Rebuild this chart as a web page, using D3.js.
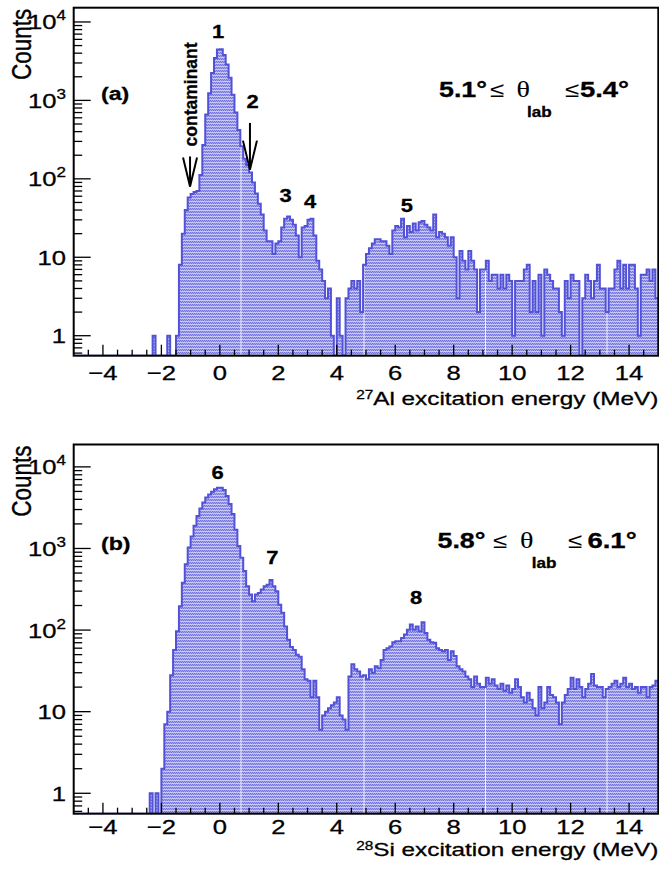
<!DOCTYPE html>
<html>
<head>
<meta charset="utf-8">
<title>27Al / 28Si excitation energy spectra</title>
<script src="https://cdn.jsdelivr.net/npm/d3@7"></script>
<style>
body { margin: 0; background: #fff; }
svg { display: block; font-family: "Liberation Sans", Arial, sans-serif; }
svg text { stroke: #000; stroke-width: 0.3px; }
</style>
</head>
<body>
<svg id="chart" width="659" height="869"></svg>
<script>
// histogram binning: 0.1 MeV bins from -5 to 15 MeV
var binLo = -5, binW = 0.1;

// (a) 27Al, 5.1-5.4 deg -- counts per bin
var countsAl = [
	0,0,0,0,0,0,0,0,0,0, 0,0,0,0,0,0,0,0,0,0, 0,0,0,0,0,0,0,1,0,0,
	0,0,1,0,0,1,8,20,40,58, 64,68,70,112,270,660,1230,2240,3470,4450,
	4500,3800,2860,1940,1180,700,420,260,180,150, 120,90,65,48,35,22,16,16,11,15,
	16,24,31,33,30,26,19,10,24,25, 30,31,19,9,7,5,3,4,1,0,
	3,1,0,3,4,5,4,5,2,8, 11,13,15,17,17,16,16,14,11,22,
	25,24,31,18,25,21,27,22,28,29, 26,24,22,35,18,21,20,18,14,18,
	10,3,12,9,7,12,9,7,2,7, 7,9,5,6,6,4,6,4,6,5,
	1,5,5,5,7,8,2,5,2,6, 1,7,6,5,4,4,2,1,5,3,
	6,5,5,0,3,6,5,3,5,8, 4,4,2,4,4,7,9,4,8,4,
	8,8,4,1,6,6,7,5,7,3
];

// (b) 28Si, 5.8-6.1 deg -- counts per bin
var countsSi = [
	0,0,0,0,0,0,0,0,0,0, 0,0,0,0,0,0,0,0,0,0, 0,0,0,0,0,0,1,0,1,0,
	2,7,10,28,57,97,196,380,640,1030, 1400,1900,2500,3100,3650,4200,4600,4950,5300,5560,
	5560,5200,4400,3500,2640,1700,1070,770,530,345, 272,225,272,285,315,345,360,410,345,300,
	205,163,111,76,62,57,50,47,33,25, 24,15,24,15,6,9,10,11,12,13,
	15,9,8,6,27,38,33,31,27,28, 25,33,30,36,34,43,57,60,63,71,
	73,73,80,88,101,117,101,111,97,125, 92,76,71,70,60,57,55,57,43,55,
	48,36,33,31,27,25,20,27,22,20, 20,26,22,25,21,19,22,18,21,17,
	19,25,20,15,13,17,14,11,9,20, 11,13,20,16,15,13,7,13,16,19,
	26,19,25,20,15,19,22,29,21,20, 20,15,19,20,22,24,20,22,26,20,
	22,19,20,17,20,20,15,20,21,24
];

var xTicks = [-4, -2, 0, 2, 4, 6, 8, 10, 12, 14];
var yDecades = [1, 10, 100, 1000, 10000];

// peak numbers (energy in MeV, height in counts)
var peaksAl = [
	{label: "1", e: -0.06, c: 6330},
	{label: "2", e: 1.12, c: 809},
	{label: "3", e: 2.25, c: 51},
	{label: "4", e: 3.09, c: 43},
	{label: "5", e: 6.4, c: 38}
];
var peaksSi = [
	{label: "6", e: -0.08, c: 7060},
	{label: "7", e: 1.8, c: 638},
	{label: "8", e: 6.71, c: 206}
];
// arrows: energy, tail and tip heights in counts
var arrowsAl = [
	{e: -1.02, from: 193, to: 80, text: "contaminant"},
	{e: 1.03, from: 516, to: 131, text: ""}
];

var sx = 1.22;			// lettering in the original is stretched sideways
var left = 73.7, right = 658.3;
var lineCol = "#5252d8";
var seamX = [241, 364, 485.5, 607];	// light seams inside the fill

var svg = d3.select("#chart");
var defs = svg.append("defs");

// ROOT-like dotted fill
var pat = defs.append("pattern")
	.attr("id", "dots")
	.attr("patternUnits", "userSpaceOnUse")
	.attr("width", 2).attr("height", 3);
pat.append("rect").attr("width", 2).attr("height", 3).attr("fill", "#a4a4ed");
pat.append("rect").attr("width", 2).attr("height", 1).attr("fill", "#c8c8f4");
pat.append("rect").attr("x", 0).attr("y", 1).attr("width", 1).attr("height", 1).attr("fill", "#7474de");
pat.append("rect").attr("x", 1).attr("y", 2).attr("width", 1).attr("height", 1).attr("fill", "#7474de");

var panels = [
	{
		id: "a", counts: countsAl, top: 7.7, bottom: 355.7, yMin: 0.556, yMax: 15200,
		nucleus: "27", element: "Al", tag: "(a)", tagY: 100,
		ang: ["5.1", "5.4"], angY: 96.7, angX: [439, 490, 516.5, 527, 565, 580],
		peaks: peaksAl, arrows: arrowsAl, xLabY: 380, titleY: 404.5
	},
	{
		id: "b", counts: countsSi, top: 444.5, bottom: 813.7, yMin: 0.562, yMax: 18800,
		nucleus: "28", element: "Si", tag: "(b)", tagY: 549.5,
		ang: ["5.8", "6.1"], angY: 548, angX: [437.5, 493, 520, 531.7, 568, 587.5],
		peaks: peaksSi, arrows: [], xLabY: 834, titleY: 856
	}
];

panels.forEach(drawPanel);

function stretchedText(g, x, y, str, k) {
	return g.append("text")
		.attr("transform", "translate(" + x + "," + y + ") scale(" + (k || sx) + ",1)")
		.text(str);
}

function drawPanel(p) {
	var g = svg.append("g");
	var x = d3.scaleLinear().domain([-5, 15]).range([left, right]);
	var y = d3.scaleLog().domain([p.yMin, p.yMax]).range([p.bottom, p.top]);
	var yv = function(c) { return c > 0 ? y(c) : p.bottom; };

	var pts = p.counts.map(function(c, i) { return [binLo + i * binW, c]; });
	pts.push([binLo + p.counts.length * binW, p.counts[p.counts.length - 1]]);

	var area = d3.area().curve(d3.curveStepAfter)
		.x(function(d) { return x(d[0]); })
		.y0(p.bottom)
		.y1(function(d) { return yv(d[1]); });
	var line = d3.line().curve(d3.curveStepAfter)
		.x(function(d) { return x(d[0]); })
		.y(function(d) { return yv(d[1]); });

	defs.append("clipPath").attr("id", "frame-" + p.id)
		.append("rect")
		.attr("x", left).attr("y", p.top)
		.attr("width", right - left).attr("height", p.bottom - p.top);
	defs.append("clipPath").attr("id", "fill-" + p.id)
		.append("path").attr("d", area(pts));

	var plot = g.append("g").attr("clip-path", "url(#frame-" + p.id + ")");
	plot.append("path")
		.attr("d", area(pts))
		.attr("fill", "url(#dots)");
	plot.append("g").attr("clip-path", "url(#fill-" + p.id + ")")
		.selectAll("line").data(seamX).enter().append("line")
		.attr("x1", function(d) { return d; }).attr("x2", function(d) { return d; })
		.attr("y1", p.top).attr("y2", p.bottom)
		.attr("stroke", "#fff").attr("stroke-opacity", 0.85).attr("stroke-width", 1);
	plot.append("path")
		.attr("d", line(pts))
		.attr("fill", "none")
		.attr("stroke", lineCol)
		.attr("stroke-width", 2);

	// ticks (inside the frame)
	var minorX = d3.range(-4.5, 15, 0.5).filter(function(v) { return xTicks.indexOf(v) < 0; });
	var tk = g.append("g").attr("stroke", "#000").attr("stroke-width", 1.3);
	tk.selectAll("line.xmaj").data(xTicks).enter().append("line")
		.attr("x1", x).attr("x2", x)
		.attr("y1", p.bottom).attr("y2", p.bottom - 11);
	tk.selectAll("line.xmin").data(minorX).enter().append("line")
		.attr("x1", x).attr("x2", x)
		.attr("y1", p.bottom).attr("y2", p.bottom - 6);
	var minorY = [];
	[0.1, 1, 10, 100, 1000, 10000].forEach(function(dec) {
		for (var k = 2; k <= 9; k++) {
			var v = dec * k;
			if (v > p.yMin && v < p.yMax) minorY.push(v);
		}
	});
	tk.selectAll("line.ymaj").data(yDecades).enter().append("line")
		.attr("x1", left).attr("x2", left + 17)
		.attr("y1", y).attr("y2", y);
	tk.selectAll("line.ymin").data(minorY).enter().append("line")
		.attr("x1", left).attr("x2", left + 8.5)
		.attr("y1", y).attr("y2", y);

	// frame
	g.append("rect")
		.attr("x", left).attr("y", p.top)
		.attr("width", right - left).attr("height", p.bottom - p.top)
		.attr("fill", "none").attr("stroke", "#000").attr("stroke-width", 2);

	// tick labels
	var lab = g.append("g").attr("font-size", 21).attr("fill", "#000");
	xTicks.forEach(function(v) {
		stretchedText(lab, x(v), p.xLabY, v < 0 ? "\u2212" + (-v) : String(v))
			.attr("text-anchor", "middle");
	});
	yDecades.forEach(function(v) {
		var e = Math.round(Math.log10(v));
		var t = stretchedText(lab, 66, y(v) + 7.5, "").attr("text-anchor", "end");
		if (e === 0) { t.text("1"); return; }
		t.append("tspan").text("10");
		if (e > 1) t.append("tspan").attr("font-size", 14).attr("dy", -9).text(String(e));
	});

	// axis titles
	var tt = stretchedText(g, right, p.titleY, "", 1.28).attr("text-anchor", "end").attr("font-size", 19);
	tt.append("tspan").attr("font-size", 12).attr("dy", -6).text(p.nucleus);
	tt.append("tspan").attr("dy", 6).text(p.element + " excitation energy (MeV)");

	g.append("text")
		.attr("transform", "translate(30.5," + (p.top + 1) + ") scale(" + sx + ",1) rotate(-90)")
		.attr("text-anchor", "end")
		.attr("font-size", 22.5)
		.text("Counts");

	// panel tag
	stretchedText(g, 101, p.tagY, p.tag).attr("font-size", 19).attr("font-weight", "bold");

	// angular range, one text with pieces placed along the line
	var ax = p.angX;
	var parts = [
		{s: p.ang[0] + "\u00b0", w: "bold", sz: 22, dy: 0},
		{s: "\u2264", w: "normal", sz: 21, dy: 0},
		{s: "\u03b8", w: "normal", sz: 23, dy: 0, serif: true},
		{s: "lab", w: "bold", sz: 14, dy: 20},
		{s: "\u2264", w: "normal", sz: 21, dy: 0},
		{s: p.ang[1] + "\u00b0", w: "bold", sz: 22.5, dy: 0}
	];
	var at = stretchedText(g, ax[0], p.angY, "");
	parts.forEach(function(d, i) {
		var ts = at.append("tspan")
			.attr("x", (ax[i] - ax[0]) / sx).attr("y", d.dy)
			.attr("font-size", d.sz).attr("font-weight", d.w)
			.text(d.s);
		if (d.serif) ts.attr("font-family", "'Liberation Serif', 'DejaVu Serif', serif");
		if (d.w === "normal") ts.attr("stroke-width", 0.1);
	});

	// peak numbers
	p.peaks.forEach(function(d) {
		stretchedText(g, x(d.e), y(d.c), d.label)
			.attr("text-anchor", "middle")
			.attr("font-size", 18).attr("font-weight", "bold");
	});

	// arrows
	p.arrows.forEach(function(d) {
		var ax0 = x(d.e), y0 = y(d.from), y1 = y(d.to);
		var head = 29, half = 7;
		var a = g.append("g").attr("stroke", "#000").attr("stroke-width", 2).attr("fill", "none");
		a.append("line").attr("x1", ax0).attr("x2", ax0).attr("y1", y0).attr("y2", y1);
		a.append("path").attr("d", "M" + (ax0 - half) + "," + (y1 - head) + "L" + ax0 + "," + y1 + "L" + (ax0 + half) + "," + (y1 - head));
		if (d.text) {
			g.append("text")
				.attr("transform", "translate(" + (ax0 + 6.5) + "," + (y0 - 10) + ") rotate(-90)")
				.attr("font-size", 17.5).attr("font-weight", "bold")
				.text(d.text);
		}
	});
}
</script>
</body>
</html>
